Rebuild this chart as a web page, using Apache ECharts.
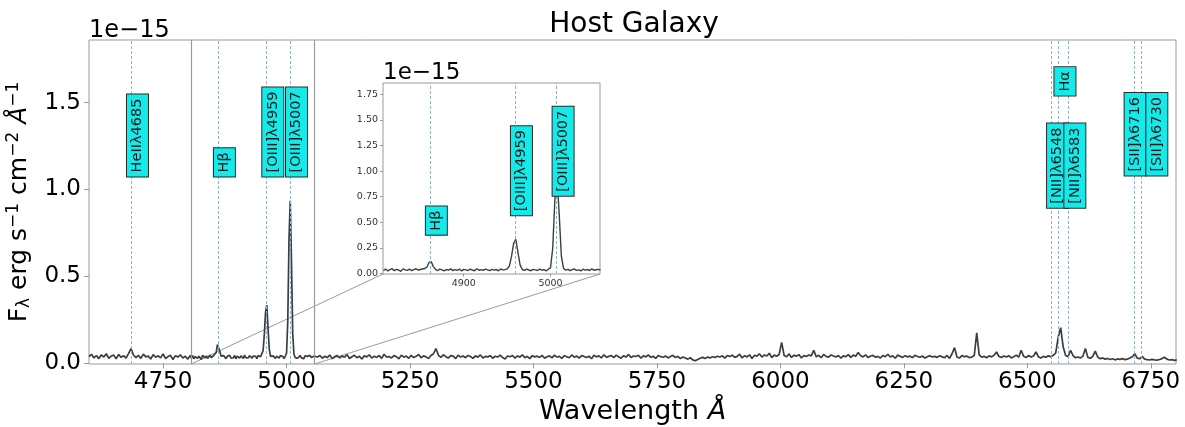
<!DOCTYPE html>
<html>
<head>
<meta charset="utf-8">
<title>Host Galaxy</title>
<script src="https://cdn.jsdelivr.net/npm/echarts@6/dist/echarts.min.js"></script>
<style>
  html, body { margin: 0; padding: 0; background: #fff; }
  #chart { width: 1185px; height: 427px; }
</style>
</head>
<body>
<div id="chart"></div>
<script>
// flux in units of 1e-15 erg s^-1 cm^-2 A^-1
const waveBlueStart = 4600
const waveInsetStart = 4807.5
const waveRedStart = 5062.5
const coarseStep = 5
const fineStep = 2.5

const fluxBlue = [
    0.038, 0.052, 0.031, 0.045, 0.027, 0.049, 0.036, 0.055, 0.029, 0.042,
    0.047, 0.026, 0.051, 0.034, 0.044, 0.030, 0.056, 0.085, 0.048, 0.033,
    0.046, 0.028, 0.053, 0.037, 0.041, 0.025, 0.050, 0.035, 0.043, 0.031,
    0.054, 0.027, 0.039, 0.046, 0.022, 0.044, 0.036, 0.049, 0.030, 0.041,
    0.024, 0.045,
]

const fluxInset = [
    0.030, 0.044, 0.026, 0.038, 0.048, 0.029, 0.041, 0.035, 0.022, 0.046,
    0.037, 0.031, 0.043, 0.028, 0.039, 0.047, 0.033, 0.040, 0.045, 0.050,
    0.062, 0.108, 0.118, 0.068, 0.041, 0.030, 0.044, 0.036, 0.027, 0.040,
    0.034, 0.046, 0.029, 0.038, 0.032, 0.045, 0.026, 0.041, 0.036, 0.030,
    0.043, 0.035, 0.028, 0.047, 0.033, 0.039, 0.031, 0.044, 0.037, 0.029,
    0.042, 0.034, 0.040, 0.027, 0.045, 0.036, 0.038, 0.046, 0.072, 0.165,
    0.295, 0.335, 0.205, 0.082, 0.040, 0.031, 0.043, 0.035, 0.028, 0.041,
    0.036, 0.030, 0.044, 0.033, 0.039, 0.027, 0.042, 0.058, 0.245, 0.720,
    0.935, 0.580, 0.170, 0.052, 0.033, 0.041, 0.029, 0.038, 0.045, 0.031,
    0.036, 0.027, 0.043, 0.034, 0.040, 0.030, 0.046, 0.033, 0.038, 0.041,
    0.035,
]

const fluxRed = [
    0.036, 0.045, 0.029, 0.041, 0.033, 0.048, 0.027, 0.039, 0.044, 0.031,
    0.042, 0.035, 0.050, 0.028, 0.038, 0.046, 0.032, 0.040, 0.025, 0.043,
    0.037, 0.049, 0.030, 0.041, 0.034, 0.045, 0.028, 0.052, 0.036, 0.039,
    0.031, 0.044, 0.038, 0.026, 0.047, 0.035, 0.042, 0.029, 0.046, 0.033,
    0.040, 0.051, 0.032, 0.043, 0.037, 0.028, 0.045, 0.055, 0.085, 0.046,
    0.034, 0.049, 0.038, 0.030, 0.044, 0.041, 0.027, 0.047, 0.036, 0.042,
    0.032, 0.045, 0.039, 0.028, 0.043, 0.035, 0.048, 0.031, 0.040, 0.037,
    0.044, 0.029, 0.041, 0.036, 0.047, 0.033, 0.025, 0.042, 0.038, 0.045,
    0.030, 0.043, 0.035, 0.049, 0.032, 0.040, 0.027, 0.044, 0.037, 0.041,
    0.034, 0.046, 0.029, 0.038, 0.043, 0.031, 0.047, 0.036, 0.040, 0.028,
    0.045, 0.037, 0.032, 0.048, 0.035, 0.042, 0.030, 0.044, 0.039, 0.033,
    0.041, 0.026, 0.046, 0.037, 0.043, 0.031, 0.049, 0.035, 0.040, 0.045,
    0.032, 0.047, 0.038, 0.029, 0.044, 0.036, 0.051, 0.033, 0.042, 0.039,
    0.046, 0.030, 0.043, 0.037, 0.048, 0.034, 0.041, 0.028, 0.045, 0.038,
    0.035, 0.042, 0.031, 0.039, 0.046, 0.033, 0.040, 0.027, 0.036, 0.030,
    0.024, 0.032, 0.020, 0.015, 0.022, 0.029, 0.034, 0.028, 0.036, 0.031,
    0.038, 0.033, 0.041, 0.036, 0.043, 0.030, 0.045, 0.039, 0.047, 0.034,
    0.040, 0.052, 0.031, 0.044, 0.037, 0.049, 0.028, 0.046, 0.041, 0.055,
    0.036, 0.048, 0.042, 0.058, 0.033, 0.047, 0.040, 0.052, 0.120, 0.045,
    0.038, 0.054, 0.034, 0.047, 0.041, 0.050, 0.031, 0.044, 0.039, 0.048,
    0.043, 0.075, 0.037, 0.046, 0.032, 0.051, 0.040, 0.035, 0.048, 0.042,
    0.036, 0.045, 0.030, 0.043, 0.038, 0.050, 0.034, 0.047, 0.041, 0.062,
    0.044, 0.037, 0.049, 0.033, 0.042, 0.046, 0.035, 0.040, 0.031, 0.045,
    0.038, 0.052, 0.036, 0.043, 0.029, 0.047, 0.040, 0.034, 0.044, 0.037,
    0.041, 0.033, 0.046, 0.039, 0.035, 0.042, 0.030, 0.038, 0.044, 0.036,
    0.040, 0.034, 0.043, 0.037, 0.032, 0.045, 0.028, 0.055, 0.090, 0.036,
    0.030, 0.044, 0.038, 0.041, 0.033, 0.036, 0.045, 0.175, 0.048, 0.035,
    0.040, 0.032, 0.043, 0.037, 0.046, 0.065, 0.039, 0.034, 0.042, 0.036,
    0.044, 0.031, 0.038, 0.047, 0.035, 0.075, 0.040, 0.033, 0.045, 0.036,
    0.042, 0.065, 0.037, 0.031, 0.040, 0.035, 0.043, 0.038, 0.046, 0.060,
    0.150, 0.205, 0.095, 0.045, 0.038, 0.075, 0.044, 0.032, 0.036, 0.030,
    0.041, 0.085, 0.034, 0.029, 0.040, 0.070, 0.036, 0.026, 0.031, 0.024,
    0.028, 0.022, 0.026, 0.020, 0.025, 0.023, 0.027, 0.021, 0.024, 0.030,
    0.038, 0.055, 0.030, 0.026, 0.040, 0.024, 0.021, 0.019, 0.023, 0.020,
    0.018, 0.022, 0.027, 0.035, 0.024, 0.019, 0.021, 0.017, 0.020,
]

const lineWaves = [4685, 4861, 4959, 5007, 6548, 6563, 6583, 6716, 6730]
const lineNames = ['HeIIλ4685', 'Hβ', '[OIII]λ4959', '[OIII]λ5007', '[NII]λ6548', 'Hα', '[NII]λ6583', '[SII]λ6716', '[SII]λ6730']
// where each tag sits: the [SII] pair is pushed apart so the tags do not overlap
const labelWaves = [4685, 4861, 4959, 5007, 6548, 6563, 6583, 6705, 6749]
const labelHeights = [1.075, 1.075, 1.075, 1.075, 0.895, 1.54, 0.895, 1.08, 1.08]

const insetLineWaves = [4861, 4959, 5007]
const insetLineNames = ['Hβ', '[OIII]λ4959', '[OIII]λ5007']
const insetLabelHeights = [0.38, 0.57, 0.76]

const mainXTicks = [4750, 5000, 5250, 5500, 5750, 6000, 6250, 6500, 6750]
const mainYTicks = [0, 0.5, 1.0, 1.5]
const insetXTicks = [4900, 5000]
const insetYTicks = [0, 0.25, 0.5, 0.75, 1.0, 1.25, 1.5, 1.75]

const mainRange = [4600, 6801]
const insetRange = [4807, 5057]
const fluxRange = [-0.004, 1.86]

const FONT = '"DejaVu Sans", sans-serif'
const FRAME = '#9a9a9a'

function toPairs(start, step, flux) {
    return flux.map((f, i) => [start + i * step, f])
}

const insetSpectrum = toPairs(waveInsetStart, fineStep, fluxInset)
const spectrum = toPairs(waveBlueStart, coarseStep, fluxBlue)
    .concat(insetSpectrum, toPairs(waveRedStart, coarseStep, fluxRed))

function dashedLines(waves) {
    return waves.map(w => ({ xAxis: w, lineStyle: { color: '#8fb2d2', type: [3, 2], width: 1 } }))
}

function labelSeries(axisIndex, waves, names, heights) {
    return {
        type: 'custom',
        xAxisIndex: axisIndex,
        yAxisIndex: axisIndex,
        z: 6,
        silent: true,
        clip: false,
        data: waves.map((w, i) => [w, heights[i]]),
        renderItem(params, api) {
            const p = api.coord([api.value(0), api.value(1)])
            return {
                type: 'text',
                x: p[0] - 4,
                y: p[1],
                rotation: Math.PI / 2,
                style: {
                    text: names[params.dataIndex],
                    font: '14.5px ' + FONT,
                    fill: '#1a1a1a',
                    backgroundColor: '#14eaea',
                    borderColor: '#2a2a2a',
                    borderWidth: 1,
                    padding: [3, 4, 3, 4],
                    align: 'left',
                    verticalAlign: 'top',
                },
            }
        },
    }
}

const plain = v => String(v)

const chart = echarts.init(document.getElementById('chart'))

const option = {
    animation: false,
    backgroundColor: '#fff',
    textStyle: { fontFamily: FONT },
    title: {
        text: 'Host Galaxy',
        left: 629,
        textAlign: 'center',
        top: 6,
        textStyle: { fontSize: 28, fontWeight: 'normal', color: '#000', fontFamily: FONT },
    },
    grid: [
        { left: 89, top: 40, width: 1087, height: 324, outerBoundsMode: 'none', show: true, borderColor: FRAME, borderWidth: 1 },
        { left: 383, top: 83, width: 217, height: 191, outerBoundsMode: 'none', show: true, borderColor: FRAME, borderWidth: 1, backgroundColor: '#fff' },
    ],
    xAxis: [
        {
            type: 'value', gridIndex: 0, min: mainRange[0], max: mainRange[1],
            name: '{t|Wavelength }{i|Å}', nameLocation: 'middle', nameGap: 31,
            nameTextStyle: {
                color: '#000',
                rich: {
                    t: { fontSize: 27, lineHeight: 32, fontFamily: FONT, color: '#000' },
                    i: { fontSize: 27, lineHeight: 32, fontStyle: 'italic', fontFamily: FONT, color: '#000' },
                },
            },
            axisLine: { show: false },
            splitLine: { show: false },
            axisTick: { customValues: mainXTicks, length: 5, lineStyle: { color: FRAME } },
            axisLabel: { customValues: mainXTicks, fontSize: 23, color: '#000', margin: 7, formatter: plain },
        },
        {
            type: 'value', gridIndex: 1, min: insetRange[0], max: insetRange[1],
            axisLine: { show: false },
            splitLine: { show: false },
            axisTick: { customValues: insetXTicks, length: 3, lineStyle: { color: FRAME } },
            axisLabel: { customValues: insetXTicks, fontSize: 9.5, color: '#333', margin: 5, formatter: plain },
        },
    ],
    yAxis: [
        {
            type: 'value', gridIndex: 0, min: fluxRange[0], max: fluxRange[1],
            name: '{t|F}{sub|λ}{t| erg s}{sup|−1}{t| cm}{sup|−2}{t| }{i|Å}{sup|−1}',
            nameLocation: 'middle', nameRotate: 90, nameGap: 44,
            nameTextStyle: {
                color: '#000',
                rich: {
                    t: { fontSize: 25, lineHeight: 28, fontFamily: FONT, color: '#000' },
                    i: { fontSize: 25, lineHeight: 28, fontStyle: 'italic', fontFamily: FONT, color: '#000' },
                    sup: { fontSize: 17, lineHeight: 16, verticalAlign: 'top', fontFamily: FONT, color: '#000' },
                    sub: { fontSize: 17, lineHeight: 16, verticalAlign: 'bottom', fontFamily: FONT, color: '#000' },
                },
            },
            axisLine: { show: false },
            splitLine: { show: false },
            axisTick: { show: true, customValues: mainYTicks, length: 5, lineStyle: { color: FRAME } },
            axisLabel: { customValues: mainYTicks, fontSize: 23, color: '#000', margin: 8, formatter: v => v.toFixed(1) },
        },
        {
            type: 'value', gridIndex: 1, min: fluxRange[0], max: fluxRange[1],
            axisLine: { show: false },
            splitLine: { show: false },
            axisTick: { show: true, customValues: insetYTicks, length: 3, lineStyle: { color: FRAME } },
            axisLabel: { customValues: insetYTicks, fontSize: 9.5, color: '#333', margin: 5, formatter: v => v.toFixed(2) },
        },
    ],
    series: [
        {
            type: 'line',
            xAxisIndex: 0, yAxisIndex: 0,
            data: spectrum,
            showSymbol: false,
            z: 3,
            lineStyle: { color: '#3d3d3d', width: 1.7 },
            markLine: {
                silent: true, symbol: 'none', label: { show: false },
                data: dashedLines(lineWaves).concat(
                    insetRange.map(w => ({ xAxis: w, lineStyle: { color: FRAME, type: 'solid', width: 1.2 } }))
                ),
            },
        },
        {
            type: 'line',
            xAxisIndex: 1, yAxisIndex: 1,
            data: insetSpectrum,
            showSymbol: false,
            z: 3,
            lineStyle: { color: '#3d3d3d', width: 1.4 },
            markLine: { silent: true, symbol: 'none', label: { show: false }, data: dashedLines(insetLineWaves) },
        },
        labelSeries(0, labelWaves, lineNames, labelHeights),
        labelSeries(1, insetLineWaves, insetLineNames, insetLabelHeights),
    ],
}

chart.setOption(option)

// inset zoom connectors and the offset texts
const rectLeft = chart.convertToPixel({ gridIndex: 0 }, [insetRange[0], fluxRange[0]])
const rectRight = chart.convertToPixel({ gridIndex: 0 }, [insetRange[1], fluxRange[0]])
const insetLeft = chart.convertToPixel({ gridIndex: 1 }, [insetRange[0], fluxRange[0]])
const insetRight = chart.convertToPixel({ gridIndex: 1 }, [insetRange[1], fluxRange[0]])
const mainCorner = chart.convertToPixel({ gridIndex: 0 }, [mainRange[0], fluxRange[1]])
const insetCorner = chart.convertToPixel({ gridIndex: 1 }, [insetRange[0], fluxRange[1]])

chart.setOption({
    graphic: [
        { type: 'line', z: 1, silent: true, shape: { x1: rectLeft[0], y1: rectLeft[1], x2: insetLeft[0], y2: insetLeft[1] }, style: { stroke: FRAME, lineWidth: 1 } },
        { type: 'line', z: 1, silent: true, shape: { x1: rectRight[0], y1: rectRight[1], x2: insetRight[0], y2: insetRight[1] }, style: { stroke: FRAME, lineWidth: 1 } },
        { type: 'text', silent: true, x: mainCorner[0], y: mainCorner[1] + 3, style: { text: '1e−15', font: '24px ' + FONT, fill: '#000', align: 'left', verticalAlign: 'bottom' } },
        { type: 'text', silent: true, x: insetCorner[0], y: insetCorner[1] + 2, style: { text: '1e−15', font: '23px ' + FONT, fill: '#000', align: 'left', verticalAlign: 'bottom' } },
    ],
})
</script>
</body>
</html>
